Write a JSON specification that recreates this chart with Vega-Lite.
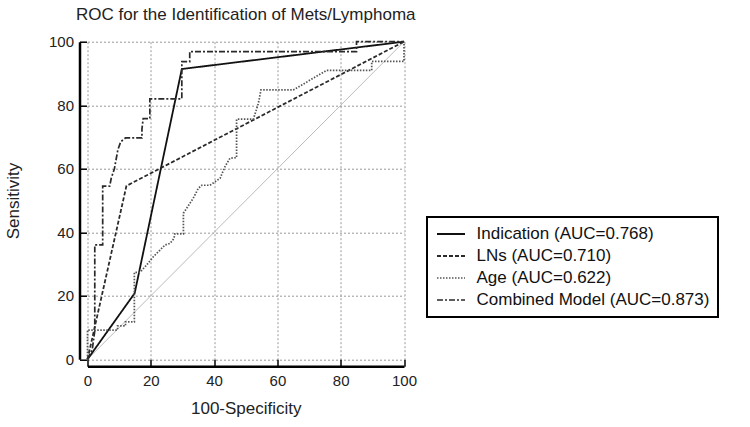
{
  "$schema": "https://vega.github.io/schema/vega-lite/v6.json",
  "autosize": "none",
  "width": 316.5,
  "height": 317.6,
  "padding": {"left": 87.5, "top": 41.7, "right": 346, "bottom": 67.7},
  "background": "white",
  "config": {
    "font": "Liberation Sans",
    "view": {"stroke": null}
  },
  "title": {
    "text": "ROC for the Identification of Mets/Lymphoma",
    "font": "Liberation Sans",
    "fontSize": 17,
    "fontWeight": "normal",
    "color": "#222",
    "anchor": "middle",
    "frame": "group",
    "baseline": "alphabetic",
    "offset": -2
  },
  "datasets": {
    "curves": [
      {"model": "Indication (AUC=0.768)", "i": 0, "x": 0, "y": 0},
      {"model": "Indication (AUC=0.768)", "i": 1, "x": 14.9, "y": 20.8},
      {"model": "Indication (AUC=0.768)", "i": 2, "x": 29.8, "y": 91.4},
      {"model": "Indication (AUC=0.768)", "i": 3, "x": 100, "y": 100},
      {"model": "LNs (AUC=0.710)", "i": 0, "x": 0, "y": 0},
      {"model": "LNs (AUC=0.710)", "i": 1, "x": 12.3, "y": 54.6},
      {"model": "LNs (AUC=0.710)", "i": 2, "x": 100, "y": 100},
      {"model": "Age (AUC=0.622)", "i": 0, "x": 0, "y": 0},
      {"model": "Age (AUC=0.622)", "i": 1, "x": 0, "y": 9.2},
      {"model": "Age (AUC=0.622)", "i": 2, "x": 9.5, "y": 9.2},
      {"model": "Age (AUC=0.622)", "i": 3, "x": 9.5, "y": 10.5},
      {"model": "Age (AUC=0.622)", "i": 4, "x": 12, "y": 10.5},
      {"model": "Age (AUC=0.622)", "i": 5, "x": 12, "y": 11.8},
      {"model": "Age (AUC=0.622)", "i": 6, "x": 14.8, "y": 11.8},
      {"model": "Age (AUC=0.622)", "i": 7, "x": 14.8, "y": 27.4},
      {"model": "Age (AUC=0.622)", "i": 8, "x": 16.6, "y": 27.4},
      {"model": "Age (AUC=0.622)", "i": 9, "x": 18.7, "y": 29.7},
      {"model": "Age (AUC=0.622)", "i": 10, "x": 20.8, "y": 32.3},
      {"model": "Age (AUC=0.622)", "i": 11, "x": 22.9, "y": 34.4},
      {"model": "Age (AUC=0.622)", "i": 12, "x": 24.5, "y": 36},
      {"model": "Age (AUC=0.622)", "i": 13, "x": 26.1, "y": 36.5},
      {"model": "Age (AUC=0.622)", "i": 14, "x": 27.3, "y": 38},
      {"model": "Age (AUC=0.622)", "i": 15, "x": 27.6, "y": 39.5},
      {"model": "Age (AUC=0.622)", "i": 16, "x": 30.3, "y": 39.5},
      {"model": "Age (AUC=0.622)", "i": 17, "x": 30.3, "y": 46},
      {"model": "Age (AUC=0.622)", "i": 18, "x": 31.3, "y": 47.5},
      {"model": "Age (AUC=0.622)", "i": 19, "x": 33.4, "y": 50.7},
      {"model": "Age (AUC=0.622)", "i": 20, "x": 35, "y": 53.8},
      {"model": "Age (AUC=0.622)", "i": 21, "x": 36.1, "y": 54.8},
      {"model": "Age (AUC=0.622)", "i": 22, "x": 38.7, "y": 54.8},
      {"model": "Age (AUC=0.622)", "i": 23, "x": 41.9, "y": 57},
      {"model": "Age (AUC=0.622)", "i": 24, "x": 43.4, "y": 60.6},
      {"model": "Age (AUC=0.622)", "i": 25, "x": 45, "y": 63.3},
      {"model": "Age (AUC=0.622)", "i": 26, "x": 47.1, "y": 63.5},
      {"model": "Age (AUC=0.622)", "i": 27, "x": 47.1, "y": 75.6},
      {"model": "Age (AUC=0.622)", "i": 28, "x": 52.4, "y": 75.6},
      {"model": "Age (AUC=0.622)", "i": 29, "x": 54, "y": 80.6},
      {"model": "Age (AUC=0.622)", "i": 30, "x": 54.8, "y": 84.8},
      {"model": "Age (AUC=0.622)", "i": 31, "x": 65, "y": 84.8},
      {"model": "Age (AUC=0.622)", "i": 32, "x": 75.6, "y": 91},
      {"model": "Age (AUC=0.622)", "i": 33, "x": 89.8, "y": 91},
      {"model": "Age (AUC=0.622)", "i": 34, "x": 89.8, "y": 93.8},
      {"model": "Age (AUC=0.622)", "i": 35, "x": 100, "y": 93.8},
      {"model": "Age (AUC=0.622)", "i": 36, "x": 100, "y": 100},
      {"model": "Combined Model (AUC=0.873)", "i": 0, "x": 0, "y": 0},
      {"model": "Combined Model (AUC=0.873)", "i": 1, "x": 1.5, "y": 3},
      {"model": "Combined Model (AUC=0.873)", "i": 2, "x": 2.3, "y": 9},
      {"model": "Combined Model (AUC=0.873)", "i": 3, "x": 2.3, "y": 36},
      {"model": "Combined Model (AUC=0.873)", "i": 4, "x": 4.8, "y": 36},
      {"model": "Combined Model (AUC=0.873)", "i": 5, "x": 4.8, "y": 54.5},
      {"model": "Combined Model (AUC=0.873)", "i": 6, "x": 7, "y": 54.5},
      {"model": "Combined Model (AUC=0.873)", "i": 7, "x": 7.5, "y": 57},
      {"model": "Combined Model (AUC=0.873)", "i": 8, "x": 8.5, "y": 60},
      {"model": "Combined Model (AUC=0.873)", "i": 9, "x": 9.6, "y": 66},
      {"model": "Combined Model (AUC=0.873)", "i": 10, "x": 10.5, "y": 68.5},
      {"model": "Combined Model (AUC=0.873)", "i": 11, "x": 12, "y": 69.7},
      {"model": "Combined Model (AUC=0.873)", "i": 12, "x": 17.2, "y": 69.7},
      {"model": "Combined Model (AUC=0.873)", "i": 13, "x": 17.2, "y": 72.5},
      {"model": "Combined Model (AUC=0.873)", "i": 14, "x": 17.6, "y": 75.8},
      {"model": "Combined Model (AUC=0.873)", "i": 15, "x": 19.7, "y": 75.8},
      {"model": "Combined Model (AUC=0.873)", "i": 16, "x": 19.7, "y": 82},
      {"model": "Combined Model (AUC=0.873)", "i": 17, "x": 29.8, "y": 82},
      {"model": "Combined Model (AUC=0.873)", "i": 18, "x": 29.8, "y": 93.7},
      {"model": "Combined Model (AUC=0.873)", "i": 19, "x": 32.3, "y": 93.7},
      {"model": "Combined Model (AUC=0.873)", "i": 20, "x": 32.3, "y": 96.9},
      {"model": "Combined Model (AUC=0.873)", "i": 21, "x": 85, "y": 96.9},
      {"model": "Combined Model (AUC=0.873)", "i": 22, "x": 85, "y": 100},
      {"model": "Combined Model (AUC=0.873)", "i": 23, "x": 100, "y": 100}
    ],
    "diag": [
      {"x": 0, "y": 0},
      {"x": 100, "y": 100}
    ]
  },
  "layer": [
    {
      "data": {"name": "diag"},
      "mark": {"type": "line", "color": "#bbbbbb", "strokeWidth": 1},
      "encoding": {
        "x": {
          "field": "x", "type": "quantitative",
          "scale": {"domain": [0, 100], "nice": false, "zero": false},
          "axis": {
            "title": "100-Specificity",
            "titleFont": "Liberation Sans",
            "titleFontSize": 17,
            "titleFontWeight": "normal",
            "titleColor": "#222",
            "titlePadding": 12,
            "values": [0,5,10,15,20,25,30,35,40,45,50,55,60,65,70,75,80,85,90,95,100],
            "labelExpr": "datum.value % 20 === 0 ? datum.label : ''",
            "labelFont": "Liberation Sans",
            "labelFontSize": 15,
            "labelColor": "#222",
            "labelPadding": 14,
            "labelFlush": false,
            "labelOverlap": false,
            "offset": 7,
            "domainColor": "#000",
            "domainWidth": 2.5,
            "tickColor": "#000",
            "tickWidth": 1.5,
            "tickSize": {"condition": {"test": "datum.value % 20 === 0", "value": -7}, "value": -3.5},
            "gridColor": "#999",
            "gridDash": [2, 2],
            "gridWidth": 1,
            "gridOpacity": {"condition": {"test": "datum.value % 20 === 0", "value": 1}, "value": 0}
          }
        },
        "y": {
          "field": "y", "type": "quantitative",
          "scale": {"domain": [0, 100], "nice": false, "zero": false},
          "axis": {
            "title": "Sensitivity",
            "titleFont": "Liberation Sans",
            "titleFontSize": 17,
            "titleFontWeight": "normal",
            "titleColor": "#222",
            "titlePadding": 26,
            "values": [0,5,10,15,20,25,30,35,40,45,50,55,60,65,70,75,80,85,90,95,100],
            "labelExpr": "datum.value % 20 === 0 ? datum.label : ''",
            "labelFont": "Liberation Sans",
            "labelFontSize": 15,
            "labelColor": "#222",
            "labelPadding": 13,
            "labelFlush": false,
            "labelOverlap": false,
            "offset": 8,
            "domainColor": "#000",
            "domainWidth": 2.5,
            "tickColor": "#000",
            "tickWidth": 1.5,
            "tickSize": {"condition": {"test": "datum.value % 20 === 0", "value": -7}, "value": -3.5},
            "gridColor": "#999",
            "gridDash": [2, 2],
            "gridWidth": 1,
            "gridOpacity": {"condition": {"test": "datum.value % 20 === 0", "value": 1}, "value": 0}
          }
        }
      }
    },
    {
      "data": {"name": "curves"},
      "mark": {"type": "line", "strokeCap": "butt"},
      "encoding": {
        "x": {"field": "x", "type": "quantitative"},
        "y": {"field": "y", "type": "quantitative"},
        "order": {"field": "i", "type": "quantitative"},
        "strokeDash": {
          "field": "model", "type": "nominal",
          "scale": {
            "domain": ["Indication (AUC=0.768)", "LNs (AUC=0.710)", "Age (AUC=0.622)", "Combined Model (AUC=0.873)"],
            "range": [[1, 0], [4, 2], [1.5, 1.5], [6, 2, 2, 2]]
          },
          "legend": {
            "title": null,
            "orient": "none",
            "legendX": 339.5,
            "legendY": 175.3,
            "symbolType": "M-1,0H3",
            "symbolSize": 196,
            "symbolStrokeWidth": 1.5,
            "symbolFillColor": "transparent",
            "labelFont": "Liberation Sans",
            "labelFontSize": 17,
            "labelColor": "#111",
            "labelOffset": 24,
            "labelLimit": 400,
            "rowPadding": 4,
            "padding": 8.5,
            "strokeColor": "#000",
            "fillColor": "white",
            "encode": {"legend": {"update": {"strokeWidth": {"value": 2}}}}
          }
        },
        "color": {
          "field": "model", "type": "nominal",
          "scale": {
            "domain": ["Indication (AUC=0.768)", "LNs (AUC=0.710)", "Age (AUC=0.622)", "Combined Model (AUC=0.873)"],
            "range": ["#111111", "#2a2a2a", "#555555", "#2a2a2a"]
          }
        },
        "strokeWidth": {
          "field": "model", "type": "nominal",
          "scale": {
            "domain": ["Indication (AUC=0.768)", "LNs (AUC=0.710)", "Age (AUC=0.622)", "Combined Model (AUC=0.873)"],
            "range": [1.8, 1.7, 1.3, 1.8]
          }
        }
      }
    }
  ]
}
